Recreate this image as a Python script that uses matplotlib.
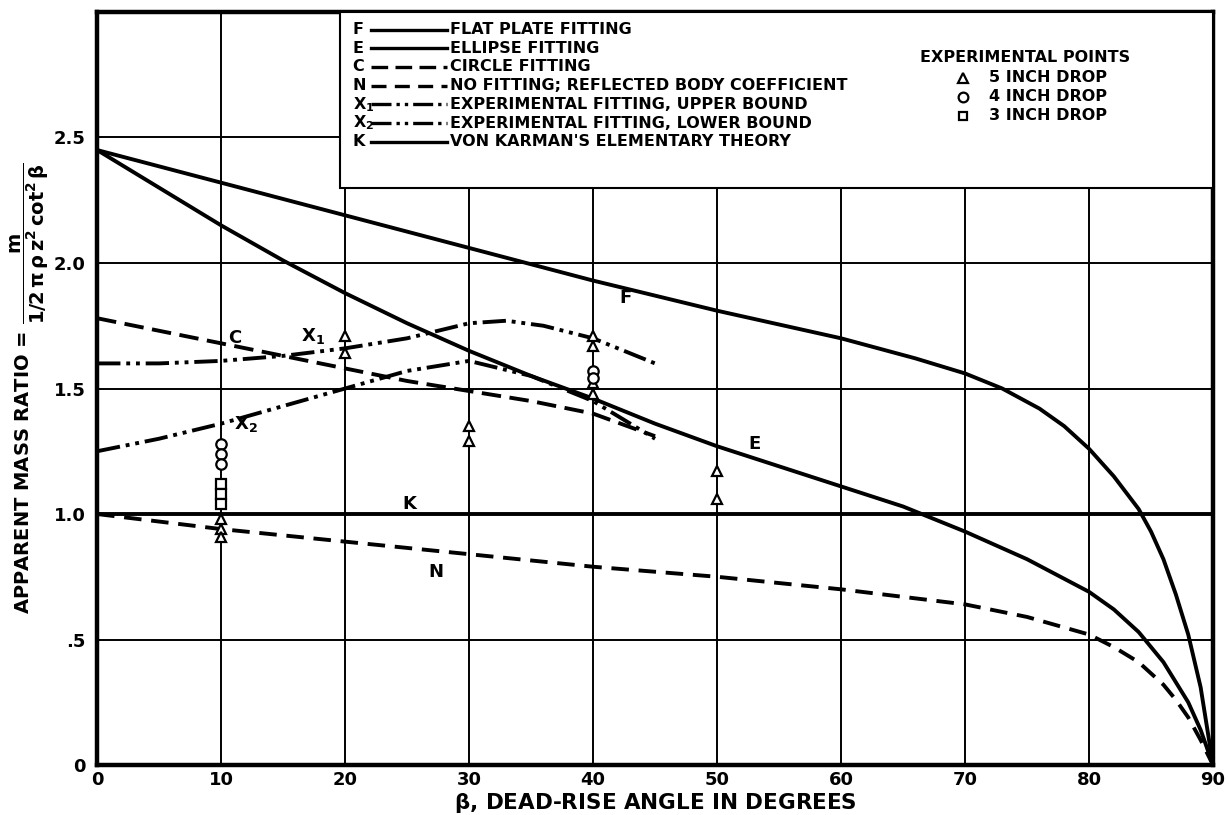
import matplotlib
matplotlib.use("Agg")
import matplotlib.pyplot as plt
from matplotlib.patches import Rectangle
from matplotlib.lines import Line2D

plt.rcParams['font.family'] = ['DejaVu Sans']
plt.rcParams['font.weight'] = 'bold'
plt.rcParams['mathtext.default'] = 'regular'
plt.rcParams['mathtext.fontset'] = 'dejavusans'

# ---- data ----
f_x = [0, 10, 20, 30, 40, 50, 60, 63, 66, 70, 73, 76, 78, 80, 82, 84, 85, 86, 87, 88, 89, 90]
f_y = [2.45, 2.32, 2.19, 2.06, 1.93, 1.81, 1.70, 1.66, 1.62, 1.56, 1.50, 1.42, 1.35, 1.26, 1.15, 1.02, 0.93, 0.82, 0.68, 0.52, 0.31, 0.0]

e_x = [0, 5, 10, 15, 20, 25, 30, 35, 40, 45, 50, 55, 60, 65, 70, 75, 80, 82, 84, 86, 88, 89, 90]
e_y = [2.45, 2.30, 2.15, 2.01, 1.88, 1.76, 1.65, 1.55, 1.46, 1.36, 1.27, 1.19, 1.11, 1.03, 0.93, 0.82, 0.69, 0.62, 0.53, 0.41, 0.25, 0.14, 0.0]

c_x = [0, 5, 10, 15, 20, 25, 30, 35, 40, 45]
c_y = [1.78, 1.73, 1.68, 1.63, 1.58, 1.53, 1.49, 1.45, 1.40, 1.31]

n_x = [0, 10, 20, 30, 40, 50, 60, 70, 75, 80, 82, 84, 86, 87, 88, 89, 90]
n_y = [1.00, 0.94, 0.89, 0.84, 0.79, 0.75, 0.70, 0.64, 0.59, 0.52, 0.47, 0.41, 0.32, 0.26, 0.19, 0.10, 0.0]

x1_x = [0, 5, 10, 15, 20, 25, 30, 33, 36, 40, 45]
x1_y = [1.60, 1.60, 1.61, 1.63, 1.66, 1.70, 1.76, 1.77, 1.75, 1.70, 1.60]

x2_x = [0, 5, 10, 15, 20, 25, 30, 35, 40, 45]
x2_y = [1.25, 1.30, 1.36, 1.43, 1.50, 1.57, 1.61, 1.55, 1.45, 1.30]

k_x = [0, 90]
k_y = [1.0, 1.0]

tri_x = [10, 10, 10, 20, 20, 30, 30, 40, 40, 40, 40, 50, 50]
tri_y = [0.98, 0.94, 0.91, 1.71, 1.64, 1.35, 1.29, 1.71, 1.67, 1.52, 1.48, 1.17, 1.06]
circ_x = [10, 10, 10, 40, 40]
circ_y = [1.28, 1.24, 1.20, 1.57, 1.54]
sq_x = [10, 10, 10]
sq_y = [1.12, 1.08, 1.04]

x_ticks = [0, 10, 20, 30, 40, 50, 60, 70, 80, 90]
y_ticks = [0, 0.5, 1.0, 1.5, 2.0, 2.5]
y_ticklabels = ['0', '.5', '1.0', '1.5', '2.0', '2.5']

legend_letters = ['F', 'E', 'C', 'N', r'X$_1$', r'X$_2$', 'K']
legend_labels = ['FLAT PLATE FITTING', 'ELLIPSE FITTING', 'CIRCLE FITTING',
                 'NO FITTING; REFLECTED BODY COEFFICIENT',
                 'EXPERIMENTAL FITTING, UPPER BOUND',
                 'EXPERIMENTAL FITTING, LOWER BOUND',
                 "VON KARMAN'S ELEMENTARY THEORY"]
point_labels = ['5 INCH DROP', '4 INCH DROP', '3 INCH DROP']

# ---- styles ----
LW = 2.8
dash_c = (0, (5, 2.2))
dash_n = (0, (4.5, 2.5))
dash_x = (0, (6, 1.5, 1, 1.5, 1, 1.5))
styles = [('-', LW), ('-', LW), (dash_c, LW), (dash_n, LW), (dash_x, LW), (dash_x, LW), ('-', LW)]

fig = plt.figure(figsize=(12.29, 8.15), dpi=100)
ax = fig.add_axes([0.079, 0.0613, 0.908, 0.924])
ax.set_xlim(0, 90)
ax.set_ylim(0, 3.0)

ax.set_axisbelow(True)
ax.set_xticks(x_ticks)
ax.set_yticks(y_ticks)
ax.set_yticklabels(y_ticklabels)
ax.grid(True, color='black', linewidth=1.4)
ax.tick_params(length=0, labelsize=13)
ax.tick_params(axis='y', pad=8)
ax.tick_params(axis='x', pad=4)
for lab in ax.get_xticklabels() + ax.get_yticklabels():
    lab.set_fontweight('bold')
for s in ax.spines.values():
    s.set_linewidth(3.2)

series = [(f_x, f_y), (e_x, e_y), (c_x, c_y), (n_x, n_y), (x1_x, x1_y), (x2_x, x2_y), (k_x, k_y)]
for (xs, ys), (ls, lw) in zip(series, styles):
    ax.plot(xs, ys, color='black', linestyle=ls, linewidth=lw, zorder=4, solid_capstyle='butt')

mk = dict(color='none', mfc='white', mec='black', mew=1.6, ms=7.5, zorder=5, linestyle='none')
ax.plot(tri_x, tri_y, marker='^', **mk)
ax.plot(circ_x, circ_y, marker='o', **mk)
ax.plot(sq_x, sq_y, marker='s', **dict(mk, ms=6.5))

# curve labels
lab_kw = dict(fontsize=13, fontweight='bold', zorder=6, ha='center', va='center')
ax.text(42.6, 1.86, 'F', **lab_kw)
ax.text(53.0, 1.28, 'E', **lab_kw)
ax.text(11.1, 1.70, 'C', **lab_kw)
ax.text(17.4, 1.71, r'X$_1$', **lab_kw)
ax.text(12.0, 1.36, r'X$_2$', **lab_kw)
ax.text(25.2, 1.04, 'K', **lab_kw)
ax.text(27.3, 0.77, 'N', **lab_kw)

# legend box
ax.add_patch(Rectangle((19.6, 2.30), 70.4, 0.70, facecolor='white', edgecolor='black',
                       linewidth=1.5, zorder=3))
y0, dy = 2.93, 0.0745
for i, (let, txt, (ls, lw)) in enumerate(zip(legend_letters, legend_labels, styles)):
    yy = y0 - i * dy
    ax.text(20.6, yy, let, fontsize=11.5, fontweight='bold', va='center', ha='left', zorder=6)
    ax.add_line(Line2D([22.1, 28.2], [yy, yy], color='black', linestyle=ls, linewidth=2.4, zorder=6))
    ax.text(28.5, yy, txt, fontsize=11.5, fontweight='bold', va='center', ha='left', zorder=6)

ax.text(66.4, 2.82, 'EXPERIMENTAL POINTS', fontsize=11.5, fontweight='bold', va='center', ha='left', zorder=6)
for i, (m, txt) in enumerate(zip(['^', 'o', 's'], point_labels)):
    yy = 2.737 - i * 0.0755
    ax.plot([69.8], [yy], marker=m, color='none', mfc='white', mec='black', mew=1.6,
            ms=7 if m != 's' else 6, zorder=6, linestyle='none')
    ax.text(71.9, yy, txt, fontsize=11.5, fontweight='bold', va='center', ha='left', zorder=6)

ax.set_xlabel(r'$\beta$, DEAD-RISE ANGLE IN DEGREES', fontsize=15.5, fontweight='bold', labelpad=2)
ax.set_ylabel(r'APPARENT MASS RATIO = $\dfrac{m}{1/2\,\pi\,\rho\,z^2\,\cot^2\beta}$',
              fontsize=14, fontweight='bold', labelpad=2)

fig.savefig('out.png', dpi=100)
